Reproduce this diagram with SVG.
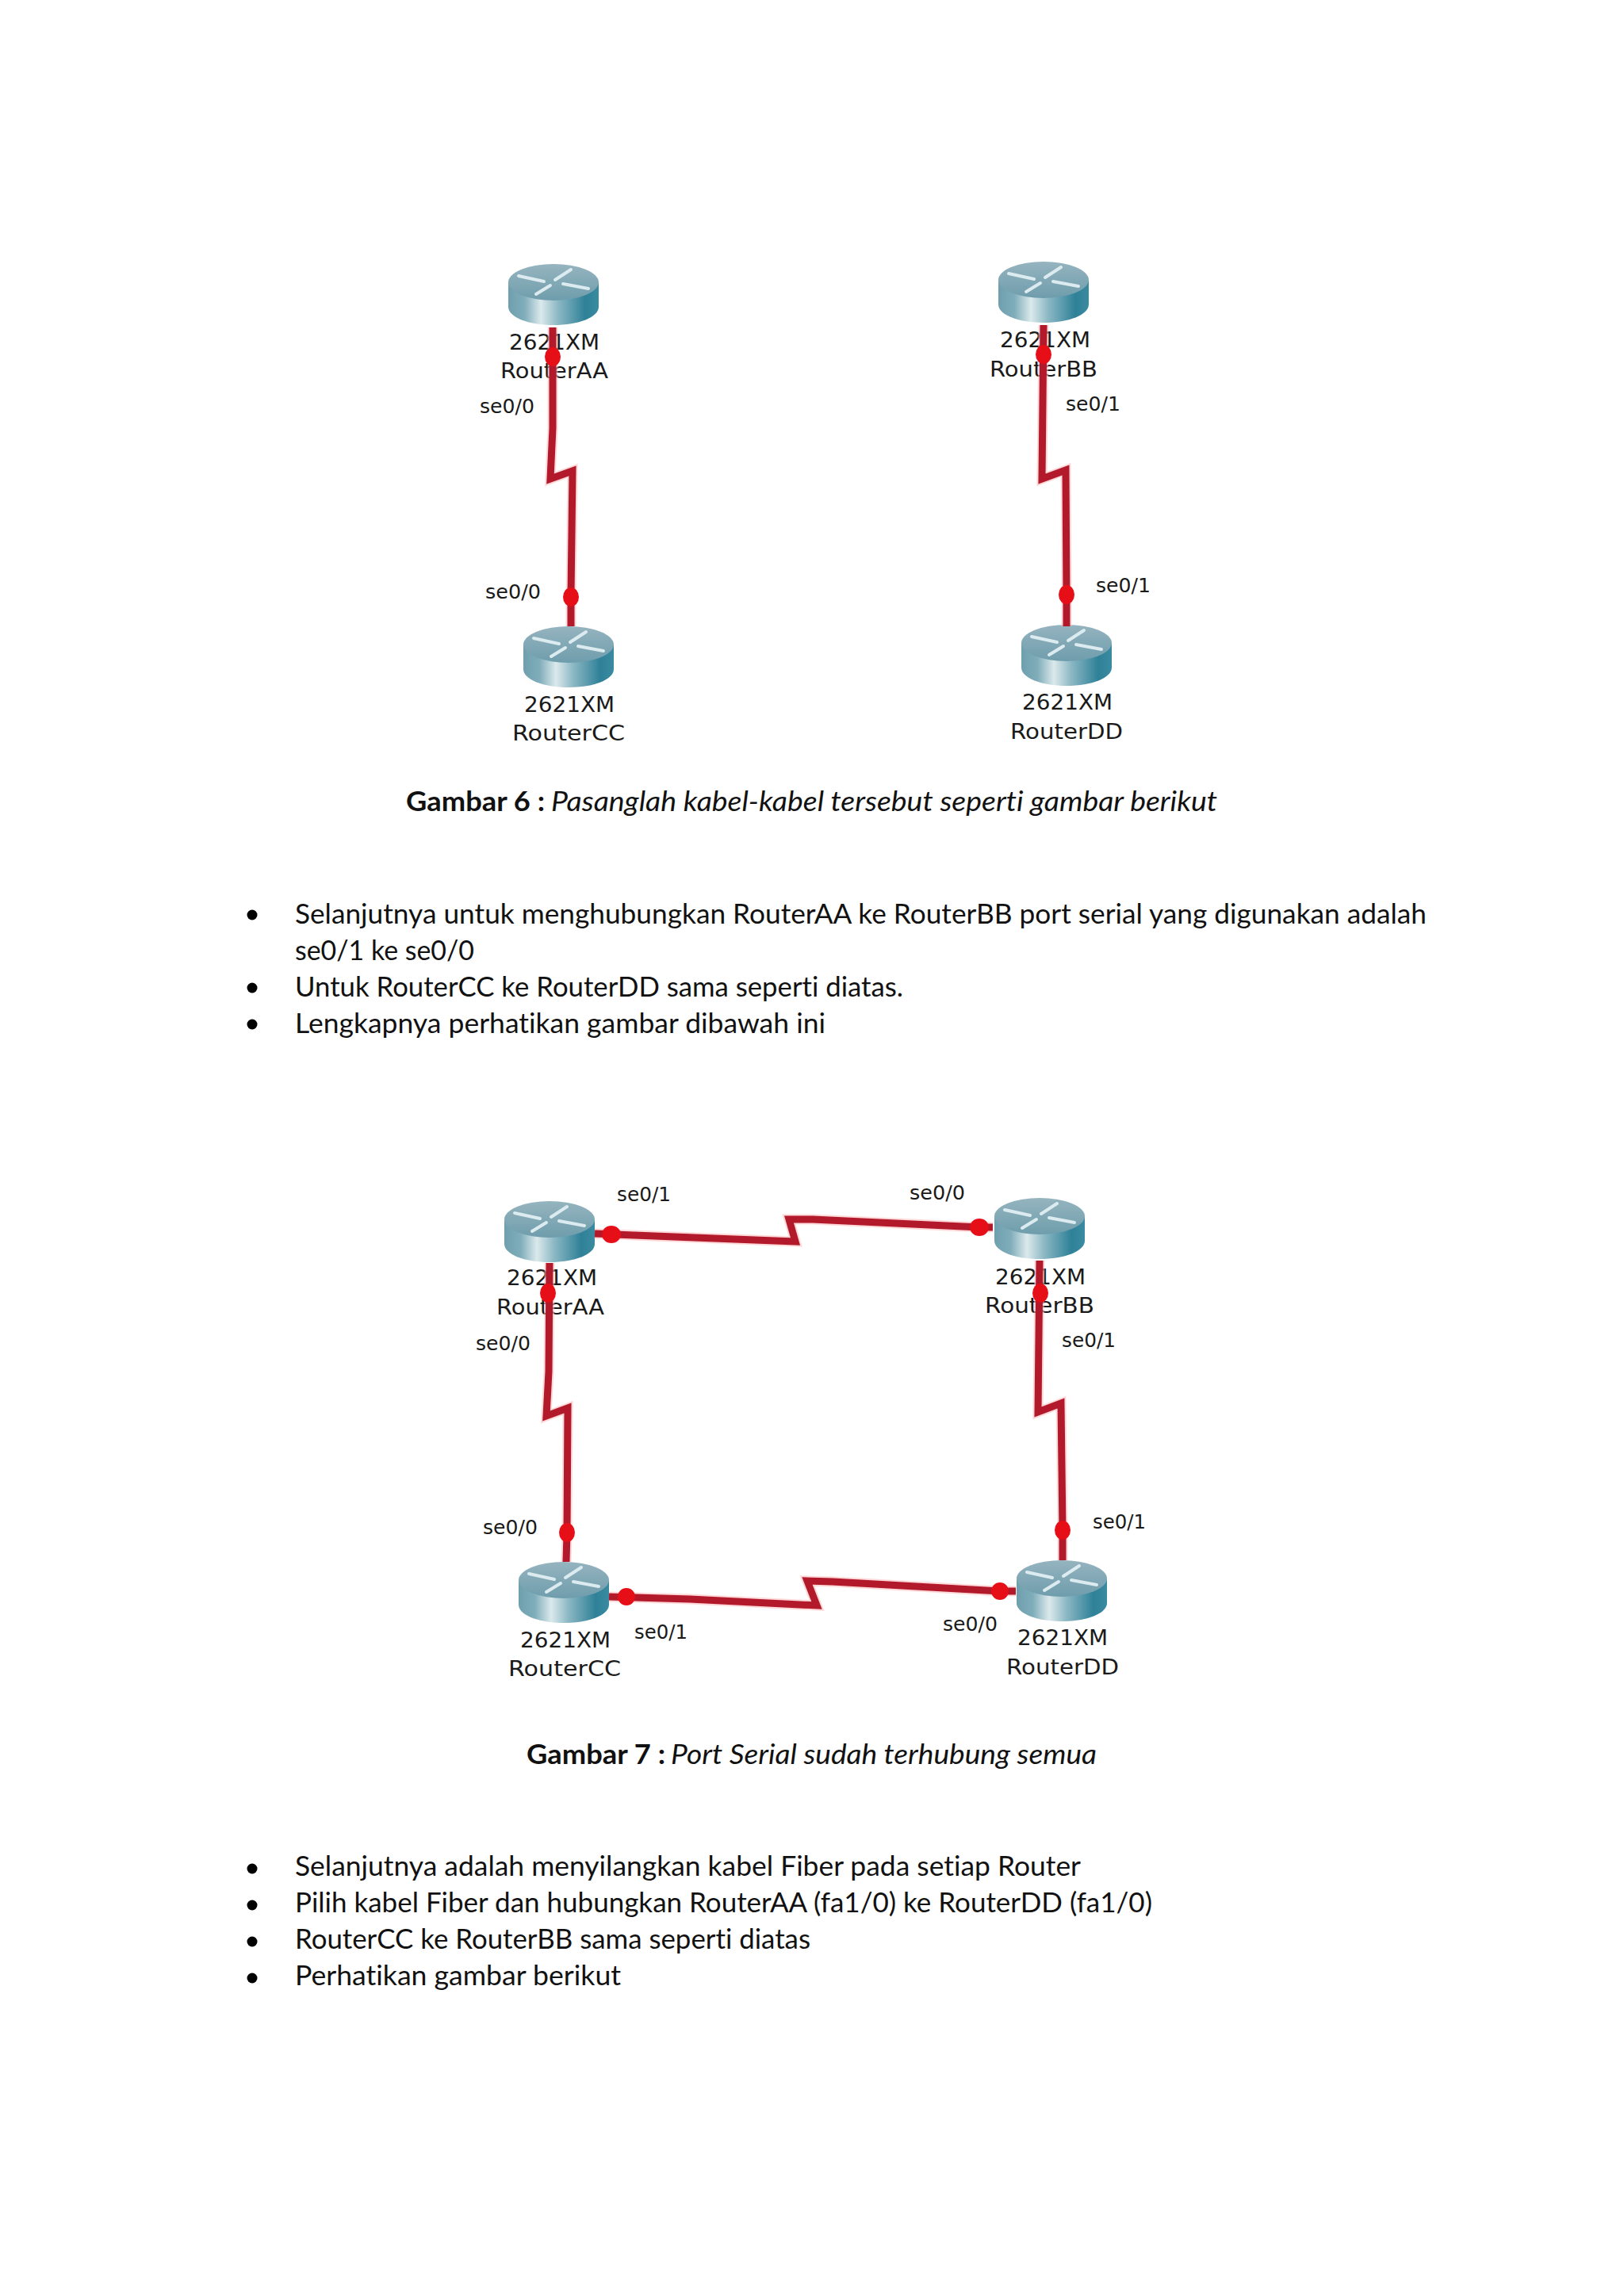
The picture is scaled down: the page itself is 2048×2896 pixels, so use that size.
<svg xmlns="http://www.w3.org/2000/svg" xmlns:xlink="http://www.w3.org/1999/xlink" width="2048" height="2896" viewBox="0 0 2048 2896">
<style>
.doc{font-family:"Lato","Open Sans","Noto Sans",sans-serif;font-size:35px;fill:#111;font-variant-ligatures:none}
.b{font-weight:700}
.i{font-style:italic}
.lab{font-family:"DejaVu Sans","Liberation Sans",sans-serif;font-size:26px;fill:#1a1a1a}
.port{font-family:"DejaVu Sans","Liberation Sans",sans-serif;font-size:25px;fill:#1a1a1a}
.halo{fill:none;stroke:#ffb9b9;stroke-width:13;stroke-linejoin:miter;opacity:.55}
.cab{fill:none;stroke:#b21a2b;stroke-width:9;stroke-linejoin:miter}
.dot{fill:#e60f18}
</style>
<defs>
<linearGradient id="side" x1="0" x2="1" y1="0" y2="0">
<stop offset="0" stop-color="#6f9fae"/>
<stop offset=".18" stop-color="#7fadba"/>
<stop offset=".36" stop-color="#dbe9ec"/>
<stop offset=".55" stop-color="#8cb8c4"/>
<stop offset=".85" stop-color="#2f8198"/>
<stop offset="1" stop-color="#3a8ba0"/>
</linearGradient>
<linearGradient id="top" x1="0" x2="0" y1="0" y2="1">
<stop offset="0" stop-color="#95b4bf"/>
<stop offset="1" stop-color="#6f9dac"/>
</linearGradient>
<g id="router">
<path d="M-57 24V54C-57 67-32 77 0 77S57 67 57 54V24Z" fill="url(#side)"/>
<ellipse cx="0" cy="23" rx="57" ry="23" fill="url(#top)"/>
<g fill="none" stroke="#dcebef" stroke-width="4" stroke-linecap="round">
<path d="M-44 15L-12 22"/>
<path d="M44 31L12 25"/>
<path d="M22 7L2 20"/>
<path d="M-22 38L-4 27"/>
</g>
</g>
</defs>
<rect width="2048" height="2896" fill="#fff"/>

<g id="fig6-routerAA"><use href="#router" x="698" y="333"/><text class="lab" x="699" y="441" text-anchor="middle" textLength="114" lengthAdjust="spacingAndGlyphs">2621XM</text><text class="lab" x="699" y="477" text-anchor="middle" textLength="136" lengthAdjust="spacingAndGlyphs">RouterAA</text><text class="port" x="605" y="521" textLength="69" lengthAdjust="spacingAndGlyphs">se0/0</text></g>
<g id="fig6-routerBB"><use href="#router" x="1316" y="330"/><text class="lab" x="1318" y="438" text-anchor="middle" textLength="114" lengthAdjust="spacingAndGlyphs">2621XM</text><text class="lab" x="1316" y="475" text-anchor="middle" textLength="136" lengthAdjust="spacingAndGlyphs">RouterBB</text><text class="port" x="1344" y="518" textLength="69" lengthAdjust="spacingAndGlyphs">se0/1</text></g>
<g id="fig6-routerCC"><use href="#router" x="717" y="790"/><text class="lab" x="718" y="898" text-anchor="middle" textLength="114" lengthAdjust="spacingAndGlyphs">2621XM</text><text class="lab" x="717" y="934" text-anchor="middle" textLength="142" lengthAdjust="spacingAndGlyphs">RouterCC</text><text class="port" x="612" y="755" textLength="70" lengthAdjust="spacingAndGlyphs">se0/0</text></g>
<g id="fig6-routerDD"><use href="#router" x="1345" y="788"/><text class="lab" x="1346" y="895" text-anchor="middle" textLength="114" lengthAdjust="spacingAndGlyphs">2621XM</text><text class="lab" x="1345" y="932" text-anchor="middle" textLength="142" lengthAdjust="spacingAndGlyphs">RouterDD</text><text class="port" x="1382" y="747" textLength="69" lengthAdjust="spacingAndGlyphs">se0/1</text></g>

<g id="fig7-routerAA"><use href="#router" x="693" y="1515"/><text class="lab" x="696" y="1621" text-anchor="middle" textLength="114" lengthAdjust="spacingAndGlyphs">2621XM</text><text class="lab" x="694" y="1658" text-anchor="middle" textLength="136" lengthAdjust="spacingAndGlyphs">RouterAA</text><text class="port" x="778" y="1515" textLength="68" lengthAdjust="spacingAndGlyphs">se0/1</text><text class="port" x="600" y="1703" textLength="69" lengthAdjust="spacingAndGlyphs">se0/0</text></g>
<g id="fig7-routerBB"><use href="#router" x="1311" y="1511"/><text class="lab" x="1312" y="1620" text-anchor="middle" textLength="114" lengthAdjust="spacingAndGlyphs">2621XM</text><text class="lab" x="1311" y="1656" text-anchor="middle" textLength="138" lengthAdjust="spacingAndGlyphs">RouterBB</text><text class="port" x="1147" y="1513" textLength="70" lengthAdjust="spacingAndGlyphs">se0/0</text><text class="port" x="1339" y="1699" textLength="68" lengthAdjust="spacingAndGlyphs">se0/1</text></g>
<g id="fig7-routerCC"><use href="#router" x="711" y="1970"/><text class="lab" x="713" y="2078" text-anchor="middle" textLength="114" lengthAdjust="spacingAndGlyphs">2621XM</text><text class="lab" x="712" y="2114" text-anchor="middle" textLength="142" lengthAdjust="spacingAndGlyphs">RouterCC</text><text class="port" x="800" y="2067" textLength="67" lengthAdjust="spacingAndGlyphs">se0/1</text><text class="port" x="609" y="1935" textLength="69" lengthAdjust="spacingAndGlyphs">se0/0</text></g>
<g id="fig7-routerDD"><use href="#router" x="1339" y="1968"/><text class="lab" x="1340" y="2075" text-anchor="middle" textLength="114" lengthAdjust="spacingAndGlyphs">2621XM</text><text class="lab" x="1340" y="2112" text-anchor="middle" textLength="142" lengthAdjust="spacingAndGlyphs">RouterDD</text><text class="port" x="1189" y="2057" textLength="69" lengthAdjust="spacingAndGlyphs">se0/0</text><text class="port" x="1378" y="1928" textLength="67" lengthAdjust="spacingAndGlyphs">se0/1</text></g>

<g id="connectors">
<g class="halos">
<path class="halo" d="M697 413V540L694 604L722 594L720 752V790"/>
<path class="halo" d="M1316 410L1314 604L1344 593L1345 750V790"/>
<path class="halo" d="M693 1593L692 1730L689 1786L716 1776L715 1933L714 1970"/>
<path class="halo" d="M1311 1590L1309 1781L1338 1770L1340 1930V1968"/>
<path class="halo" d="M750 1556L850 1560L1003 1566L995 1538L1025 1538L1235 1548H1252"/>
<path class="halo" d="M768 2014L870 2017L1030 2025L1018 1994L1050 1995L1261 2007H1281"/>
</g>
<path class="cab" d="M697 413V540L694 604L722 594L720 752V790"/>
<path class="cab" d="M1316 410L1314 604L1344 593L1345 750V790"/>
<path class="cab" d="M693 1593L692 1730L689 1786L716 1776L715 1933L714 1970"/>
<path class="cab" d="M1311 1590L1309 1781L1338 1770L1340 1930V1968"/>
<path class="cab" d="M750 1556L850 1560L1003 1566L995 1538L1025 1538L1235 1548H1252"/>
<path class="cab" d="M768 2014L870 2017L1030 2025L1018 1994L1050 1995L1261 2007H1281"/>
<ellipse class="dot" cx="697" cy="450" rx="10" ry="12"/>
<ellipse class="dot" cx="720" cy="753" rx="10" ry="12"/>
<ellipse class="dot" cx="1316" cy="447" rx="10" ry="12"/>
<ellipse class="dot" cx="1345" cy="750" rx="10" ry="12"/>
<ellipse class="dot" cx="771" cy="1557" rx="12" ry="11"/>
<ellipse class="dot" cx="1235" cy="1548" rx="12" ry="11"/>
<ellipse class="dot" cx="691" cy="1631" rx="10" ry="12"/>
<ellipse class="dot" cx="1312" cy="1631" rx="10" ry="12"/>
<ellipse class="dot" cx="715" cy="1933" rx="10" ry="12"/>
<ellipse class="dot" cx="1340" cy="1930" rx="10" ry="12"/>
<ellipse class="dot" cx="790" cy="2014" rx="11" ry="11"/>
<ellipse class="dot" cx="1261" cy="2007" rx="11" ry="11"/>
</g>

<g id="caption6"><text class="doc b" x="512" y="1023" textLength="175" lengthAdjust="spacingAndGlyphs">Gambar 6 :</text><text class="doc i" x="695" y="1023" textLength="840" lengthAdjust="spacingAndGlyphs">Pasanglah kabel-kabel tersebut seperti gambar berikut</text></g>
<g id="list1">
<circle cx="318" cy="1154" r="6.5"/><circle cx="318" cy="1246" r="6.5"/><circle cx="318" cy="1292" r="6.5"/>
<text class="doc" x="372" y="1165" textLength="1427" lengthAdjust="spacingAndGlyphs">Selanjutnya untuk menghubungkan RouterAA ke RouterBB port serial yang digunakan adalah</text>
<text class="doc" x="372" y="1211" textLength="226" lengthAdjust="spacingAndGlyphs">se0/1 ke se0/0</text>
<text class="doc" x="372" y="1257" textLength="767" lengthAdjust="spacingAndGlyphs">Untuk RouterCC ke RouterDD sama seperti diatas.</text>
<text class="doc" x="372" y="1303" textLength="669" lengthAdjust="spacingAndGlyphs">Lengkapnya perhatikan gambar dibawah ini</text>
</g>
<g id="caption7"><text class="doc b" x="664" y="2225" textLength="175" lengthAdjust="spacingAndGlyphs">Gambar 7 :</text><text class="doc i" x="846" y="2225" textLength="537" lengthAdjust="spacingAndGlyphs">Port Serial sudah terhubung semua</text></g>
<g id="list2">
<circle cx="318" cy="2357" r="6.5"/><circle cx="318" cy="2403" r="6.5"/><circle cx="318" cy="2449" r="6.5"/><circle cx="318" cy="2495" r="6.5"/>
<text class="doc" x="372" y="2366" textLength="991" lengthAdjust="spacingAndGlyphs">Selanjutnya adalah menyilangkan kabel Fiber pada setiap Router</text>
<text class="doc" x="372" y="2412" textLength="1081" lengthAdjust="spacingAndGlyphs">Pilih kabel Fiber dan hubungkan RouterAA (fa1/0) ke RouterDD (fa1/0)</text>
<text class="doc" x="372" y="2458" textLength="650" lengthAdjust="spacingAndGlyphs">RouterCC ke RouterBB sama seperti diatas</text>
<text class="doc" x="372" y="2504" textLength="411" lengthAdjust="spacingAndGlyphs">Perhatikan gambar berikut</text>
</g>
</svg>
